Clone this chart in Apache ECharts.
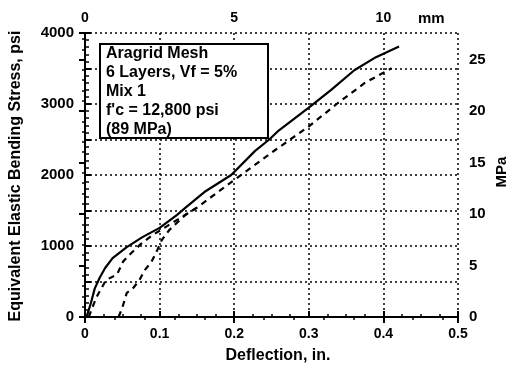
<!DOCTYPE html>
<html><head><meta charset="utf-8">
<script src="https://cdn.jsdelivr.net/npm/echarts@6/dist/echarts.min.js"></script>
<style>html,body{margin:0;padding:0;background:#fff}#c{width:512px;height:371px}</style>
</head><body><div id="c"></div>
<script>
// Deflection (in.) and stress (psi)
const solidX = [0, 0.003, 0.008, 0.013, 0.02, 0.027, 0.037, 0.056, 0.077, 0.1, 0.123, 0.136, 0.16, 0.196, 0.228, 0.247, 0.26, 0.3, 0.33, 0.361, 0.39, 0.421];
const solidY = [0, 30, 200, 400, 560, 690, 830, 985, 1125, 1255, 1435, 1550, 1760, 2000, 2340, 2500, 2630, 2950, 3200, 3475, 3660, 3810];
const dashAX = [0.005, 0.015, 0.028, 0.043, 0.051, 0.06, 0.075, 0.09, 0.11, 0.13, 0.15, 0.2, 0.255, 0.299, 0.339, 0.375, 0.411];
const dashAY = [0, 270, 520, 600, 780, 880, 1030, 1150, 1280, 1410, 1540, 1930, 2352, 2676, 3014, 3296, 3505];
const dashBX = [0.045, 0.05, 0.056, 0.064, 0.073, 0.08, 0.089, 0.097, 0.103, 0.113, 0.123, 0.135, 0.15];
const dashBY = [0, 130, 340, 400, 520, 660, 775, 945, 1085, 1225, 1325, 1440, 1540];
const xTicks = [0, 0.1, 0.2, 0.3, 0.4, 0.5];
const yTicks = [0, 1000, 2000, 3000, 4000];
const mmTicks = [0, 5, 10];
const mpaTicks = [0, 5, 10, 15, 20, 25];
const noteLines = ['Aragrid Mesh', '6 Layers, Vf = 5%', 'Mix 1', "f'c = 12,800 psi", '(89 MPa)'];
const PSI_PER_MPA = 145.04;

const pairs = (xs, ys) => xs.map((x, i) => [x, ys[i]]);
const FAM = '"Liberation Sans", Arial, sans-serif';
const font = s => ({fontFamily: FAM, fontWeight: 'bold', fontSize: s, color: '#000'});
const tfont = s => 'bold ' + s + 'px ' + FAM;
const axLine = {show: true, lineStyle: {color: '#000', width: 2}};
const chart = echarts.init(document.getElementById('c'));
chart.setOption({
  animation: false,
  backgroundColor: '#fff',
  grid: {left: 85, right: 54, top: 33, bottom: 54, show: false},
  xAxis: [{
    type: 'value', min: 0, max: 0.5, interval: 0.1, position: 'bottom',
    axisLine: axLine,
    axisTick: {show: true, inside: true, length: 6, lineStyle: {color: '#000', width: 2}},
    minorTick: {show: true, splitNumber: 4, length: 3, lineStyle: {color: '#000', width: 1.5}},
    axisLabel: Object.assign({margin: 10, formatter: v => {
      const t = xTicks.find(k => Math.abs(k - v) < 1e-9); return t === undefined ? '' : (t === 0 ? '0' : String(t));
    }}, font(14)),
    splitLine: {show: true, lineStyle: {color: '#000', type: [2, 3], width: 1.5}}
  }, {
    type: 'value', min: 0, max: 12.5, interval: 5, position: 'top',
    axisLine: axLine,
    axisTick: {show: true, inside: true, length: 6, lineStyle: {color: '#000', width: 2}},
    minorTick: {show: true, splitNumber: 5, length: 3, lineStyle: {color: '#000', width: 1.5}},
    axisLabel: Object.assign({margin: 8, formatter: v => mmTicks.includes(v) ? String(v) : ''}, font(14)),
    splitLine: {show: false}
  }],
  yAxis: [{
    type: 'value', min: 0, max: 4000, interval: 500, position: 'left',
    axisLine: axLine,
    axisTick: {show: true, inside: true, length: 6, lineStyle: {color: '#000', width: 2}},
    minorTick: {show: true, splitNumber: 5, length: 4, lineStyle: {color: '#000', width: 1.5}},
    axisLabel: Object.assign({margin: 11, formatter: v => yTicks.includes(v) ? String(v) : ''}, font(15)),
    splitLine: {show: true, lineStyle: {color: '#000', type: [2, 3], width: 1.5}}
  }, {
    type: 'value', min: 0, max: 4000 / PSI_PER_MPA, interval: 5, position: 'right',
    axisLine: axLine,
    axisTick: {show: true, inside: true, length: 6, lineStyle: {color: '#000', width: 2}},
    minorTick: {show: true, splitNumber: 5, length: 3, lineStyle: {color: '#000', width: 1.5}},
    axisLabel: Object.assign({margin: 11, showMaxLabel: false, formatter: v => mpaTicks.includes(v) ? String(v) : ''}, font(15)),
    splitLine: {show: false}
  }],
  series: [
    {type: 'line', data: pairs(solidX, solidY), symbol: 'none', lineStyle: {color: '#000', width: 2.2}},
    {type: 'line', data: pairs(dashAX, dashAY), symbol: 'none', lineStyle: {color: '#000', width: 2.2, type: [6, 5]}},
    {type: 'line', data: pairs(dashBX, dashBY), symbol: 'none', lineStyle: {color: '#000', width: 2.2, type: [6, 5]}}
  ],
  graphic: [
    {type: 'rect', shape: {x: 100, y: 44, width: 168, height: 94}, style: {fill: '#fff', stroke: '#000', lineWidth: 2}, z: 10}
  ].concat(noteLines.map((t, i) => ({
    type: 'text', x: 106, y: 54 + i * 19, z: 11,
    style: {text: t, font: tfont(16), fill: '#000', verticalAlign: 'middle'}
  }))).concat([
    {type: 'text', x: 418, y: 19, z: 11, style: {text: 'mm', font: tfont(15), fill: '#000', verticalAlign: 'middle'}},
    {type: 'text', x: 278, y: 356, z: 11, style: {text: 'Deflection, in.', font: tfont(16), fill: '#000', align: 'center', verticalAlign: 'middle'}},
    {type: 'text', x: 16, y: 176, rotation: Math.PI / 2, z: 11, style: {text: 'Equivalent Elastic Bending Stress, psi', font: tfont(16), fill: '#000', align: 'center', verticalAlign: 'middle'}},
    {type: 'text', x: 502, y: 172, rotation: Math.PI / 2, z: 11, style: {text: 'MPa', font: tfont(15), fill: '#000', align: 'center', verticalAlign: 'middle'}}
  ])
});
</script></body></html>
